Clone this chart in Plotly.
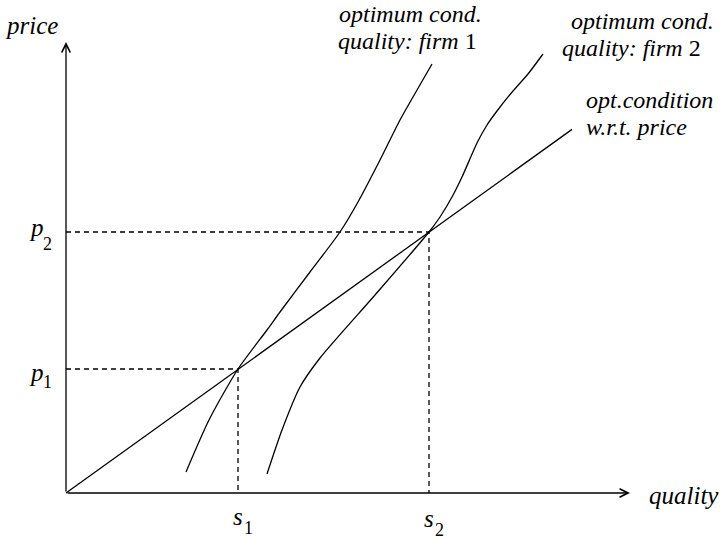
import plotly.graph_objects as go

# ---- data (pixel-like units; origin at axes intersection) ----
x_axis_end = 564
y_axis_end = 451

price_line_x = [0, 506]
price_line_y = [0, 363.6]

firm1_x = [120, 143, 172, 201, 214, 244, 274, 292, 314, 334, 347, 366]
firm1_y = [21, 73, 124, 163, 181, 221, 261, 291, 333, 373, 396, 429]

firm2_x = [201, 216, 234, 254, 309, 363, 374, 386, 396, 411, 421, 431, 447, 462, 477]
firm2_y = [19, 63, 106, 135, 198, 261, 276, 296, 316, 350, 368, 382, 402, 419, 439]

s_vals = [172, 363]
p_vals = [124, 261]
s_labels = ["s", "s"]
p_labels = ["p", "p"]
sub_labels = ["1", "2"]

FONT = "Times New Roman, Liberation Serif, DejaVu Serif, serif"
BLACK = "#000000"

fig = go.Figure()

line_style = dict(color=BLACK, width=1.3)

# dashed guide lines
for s, p in zip(s_vals, p_vals):
    fig.add_trace(go.Scatter(x=[0, s, s], y=[p, p, 0], mode="lines",
                             line=dict(color=BLACK, width=1.3, dash="5px,4px"),
                             hoverinfo="skip", showlegend=False))

fig.add_trace(go.Scatter(x=price_line_x, y=price_line_y, mode="lines",
                         line=line_style, showlegend=False))
fig.add_trace(go.Scatter(x=firm1_x, y=firm1_y, mode="lines",
                         line=dict(color=BLACK, width=1.3, shape="spline", smoothing=0.7),
                         showlegend=False))
fig.add_trace(go.Scatter(x=firm2_x, y=firm2_y, mode="lines",
                         line=dict(color=BLACK, width=1.3, shape="spline", smoothing=0.7),
                         showlegend=False))

annotations = []
# axes with arrows
annotations.append(dict(x=x_axis_end, y=0, ax=0, ay=0, xref="x", yref="y", axref="x", ayref="y",
                        showarrow=True, arrowhead=5, arrowsize=1.3, arrowwidth=1.3,
                        arrowcolor=BLACK, text=""))
annotations.append(dict(x=0, y=y_axis_end, ax=0, ay=0, xref="x", yref="y", axref="x", ayref="y",
                        showarrow=True, arrowhead=5, arrowsize=1.3, arrowwidth=1.3,
                        arrowcolor=BLACK, text=""))

def txt(x, y, text, size=25, xanchor="center", yanchor="middle"):
    annotations.append(dict(x=x, y=y, xref="x", yref="y", text=text, showarrow=False,
                            xanchor=xanchor, yanchor=yanchor, borderpad=0,
                            font=dict(family=FONT, size=size, color=BLACK)))

# axis titles
txt(-35, 467.5, "<i>price</i>")
txt(582, -2.6, "<i>quality</i>", xanchor="left")

# curve labels
LS = 24
txt(417, 479, "<i>optimum cond.</i>", size=LS, xanchor="right")
txt(412, 452, "<i>quality: firm</i> 1", size=LS, xanchor="right")
txt(649, 472, "<i>optimum cond.</i>", size=LS, xanchor="right")
txt(636, 445, "<i>quality: firm</i> 2", size=LS, xanchor="right")
txt(519, 393, "<i>opt.condition</i>", size=LS, xanchor="left")
txt(519, 366, "<i>w.r.t. price</i>", size=LS, xanchor="left")

# tick-like labels
p_main_y = [120.4, 265.4]
p_sub_y = [111.1, 249.1]
for lab, sub, ym, ys in zip(p_labels, sub_labels, p_main_y, p_sub_y):
    txt(-30, ym, "<i>%s</i>" % lab)
    txt(-18.5, ys, sub, size=18)

s_main_y = [-23.6, -25.6]
s_sub_y = [-34.9, -36.9]
for lab, sub, s, ym, ys in zip(s_labels, sub_labels, s_vals, s_main_y, s_sub_y):
    txt(s - 0.5, ym, "<i>%s</i>" % lab)
    txt(s + 10.5, ys, sub, size=18)

fig.update_layout(
    width=722, height=540,
    margin=dict(l=0, r=0, t=0, b=0),
    paper_bgcolor="white", plot_bgcolor="white",
    xaxis=dict(range=[-66, 656], visible=False, fixedrange=True),
    yaxis=dict(range=[-47, 493], visible=False, fixedrange=True),
    annotations=annotations,
    showlegend=False,
)

fig.write_html("out.html")
